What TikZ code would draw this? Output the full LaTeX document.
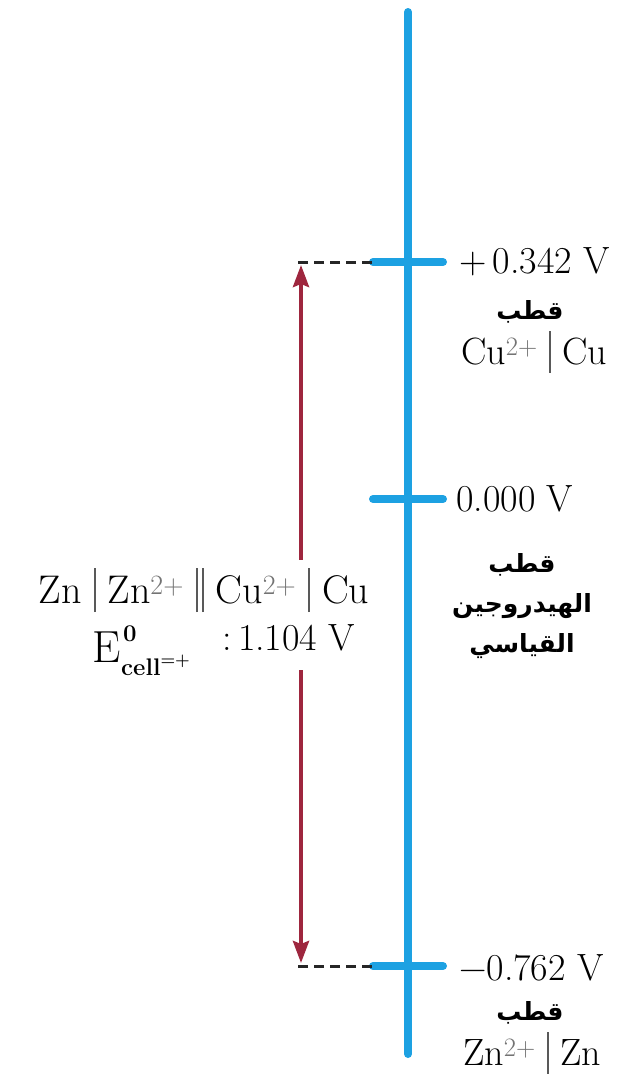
\documentclass[tikz,border=0pt]{standalone}
\usepackage{fontspec}
\newfontfamily\arabicfont[Script=Arabic]{DejaVu Sans}
\TeXXeTstate=1
\usetikzlibrary{arrows.meta}

\definecolor{scaleblue}{RGB}{29,161,226}
\definecolor{cellred}{RGB}{158,38,62}
\newcommand\onebar{\textcolor{black!65}{\rule[-0.22em]{0.045em}{1.1em}}}
\newcommand\sepbar{\hspace{0.3em}\onebar\hspace{0.3em}}
\newcommand\twobar{\hspace{0.3em}\onebar\hspace{0.1em}\onebar\hspace{0.3em}}
\newcommand\ion[1]{\textsuperscript{\textcolor{black!55}{#1}}}
\newcommand\latinsize{\fontsize{38}{44}\selectfont}
\newcommand\arabsize{\fontsize{25}{40}\arabicfont\bfseries}

\tikzset{
  scaletick/.style={scaleblue,line width=8pt,line cap=round},
  levelguide/.style={black!85,line width=3pt,dash pattern=on 10pt off 6pt},
  potential/.style={cellred,line width=4pt},
  volt/.style={anchor=west,inner sep=0pt,font=\latinsize},
  electrode/.style={inner sep=0pt,font=\latinsize},
  arab/.style={inner sep=0pt,align=center,font=\arabsize},
}

\begin{document}
\begin{tikzpicture}[x=1pt,y=-1pt]
  \useasboundingbox (0,0) rectangle (632,1079);

  % potential scale
  \coordinate (top) at (408,12);
  \coordinate (bot) at (408,1054);
  \draw[scaletick] (top) -- (bot);

  \coordinate (cu) at (408,262);
  \coordinate (hy) at (408,499);
  \coordinate (zn) at (408,966);
  \foreach \c in {cu,hy,zn}
    \draw[scaletick] ([xshift=-35pt]\c) -- ([xshift=35pt]\c);

  \draw[levelguide] ([xshift=-36pt]cu) -- ([xshift=-112pt]cu) coordinate (cuend);
  \draw[levelguide] ([xshift=-36pt]zn) -- ([xshift=-112pt]zn) coordinate (znend);

  % right labels
  \node[volt] (cuv) at (459,262) {+\,0.342 V};
  \node[arab] (cuar) at (530,312) {\beginR قطب\endR};
  \node[electrode] (cuel) at (534,352) {Cu\ion{2+}\sepbar Cu};

  \node[volt] (hyv) at (456,499) {0.000 V};
  \node[arab] (hyar) at (522,606) {\beginR قطب\endR\\ \beginR الهيدروجين\endR\\ \beginR القياسي\endR};

  \node[volt] (znv) at (459,968) {−0.762 V};
  \node[arab] (znar) at (530,1013) {\beginR قطب\endR};
  \node[electrode] (znel) at (532,1053) {Zn\ion{2+}\sepbar Zn};

  % cell notation
  \node[electrode,font=\fontsize{40}{44}\selectfont] (cell) at (204,590)
    {Zn\sepbar Zn\ion{2+}\twobar Cu\ion{2+}\sepbar Cu};
  \node[anchor=base east,inner sep=0pt,font=\fontsize{45}{50}\selectfont] (ee) at (121,662) {E};
  \node[anchor=base west,inner sep=0pt,font=\fontsize{24}{28}\selectfont\bfseries] (eexp) at (123,641) {0};
  \node[anchor=base west,inner sep=0pt,font=\fontsize{24}{28}\selectfont\bfseries] (esub) at (121,675) {cell\textsuperscript{=+}};
  \node[anchor=base west,inner sep=0pt,font=\latinsize] (evalue) at (222,650) {:\,1.104 V};

  \coordinate (arrtop) at (301,265);
  \coordinate (arrbot) at (301,963);
  \draw[potential,{Stealth[length=22pt,width=16pt,inset=3pt]}-] (arrtop) -- (301,560);
  \draw[potential,-{Stealth[length=22pt,width=16pt,inset=3pt]}] (301,670) -- (arrbot);
\end{tikzpicture}
\end{document}
